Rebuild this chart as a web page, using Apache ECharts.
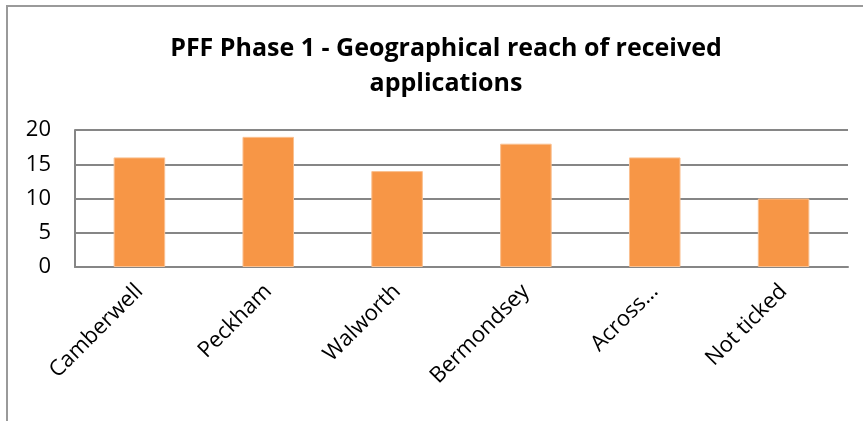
<!DOCTYPE html>
<html>
<head>
<meta charset="utf-8">
<title>PFF Phase 1</title>
<script src="https://cdn.jsdelivr.net/npm/echarts@6/dist/echarts.min.js"></script>
<style>
  html, body { margin: 0; padding: 0; background: #fff; }
  #chart { width: 863px; height: 421px; }
</style>
</head>
<body>
<div id="chart"></div>
<script>
var areas = ['Camberwell', 'Peckham', 'Walworth', 'Bermondsey', 'Across…', 'Not ticked'];
var counts = [16, 19, 14, 18, 16, 10];

var chart = echarts.init(document.getElementById('chart'));
chart.setOption({
  animation: false,
  title: {
    text: 'PFF Phase 1 - Geographical reach of received\napplications',
    left: 441,
    top: 26,
    textAlign: 'center',
    textStyle: {
      fontFamily: 'Open Sans',
      fontWeight: 'bold',
      fontSize: 25,
      lineHeight: 35,
      color: '#000'
    }
  },
  graphic: [{
    type: 'rect',
    shape: { x: 7, y: 6, width: 900, height: 500 },
    style: { fill: 'none', stroke: '#9a9a9a', lineWidth: 2 }
  }],
  grid: { left: 75, right: 15, top: 130, bottom: 154 },
  xAxis: {
    type: 'category',
    data: areas,
    axisLine: { lineStyle: { color: '#868686', width: 2 } },
    axisTick: { show: false },
    axisLabel: {
      rotate: 45,
      interval: 0,
      margin: 21,
      fontFamily: 'Open Sans',
      fontSize: 22,
      color: '#000'
    }
  },
  yAxis: {
    type: 'value',
    min: 0,
    max: 20,
    interval: 5,
    axisLine: { show: true, lineStyle: { color: '#868686', width: 2 } },
    axisTick: { show: false },
    splitLine: { lineStyle: { color: '#868686', width: 2 } },
    axisLabel: {
      margin: 24,
      fontFamily: 'Open Sans',
      fontSize: 22,
      color: '#000'
    }
  },
  series: [{
    type: 'bar',
    data: counts,
    barWidth: '40%',
    itemStyle: { color: '#F79646', borderColor: '#FAC090', borderWidth: 1 }
  }]
});
</script>
</body>
</html>
